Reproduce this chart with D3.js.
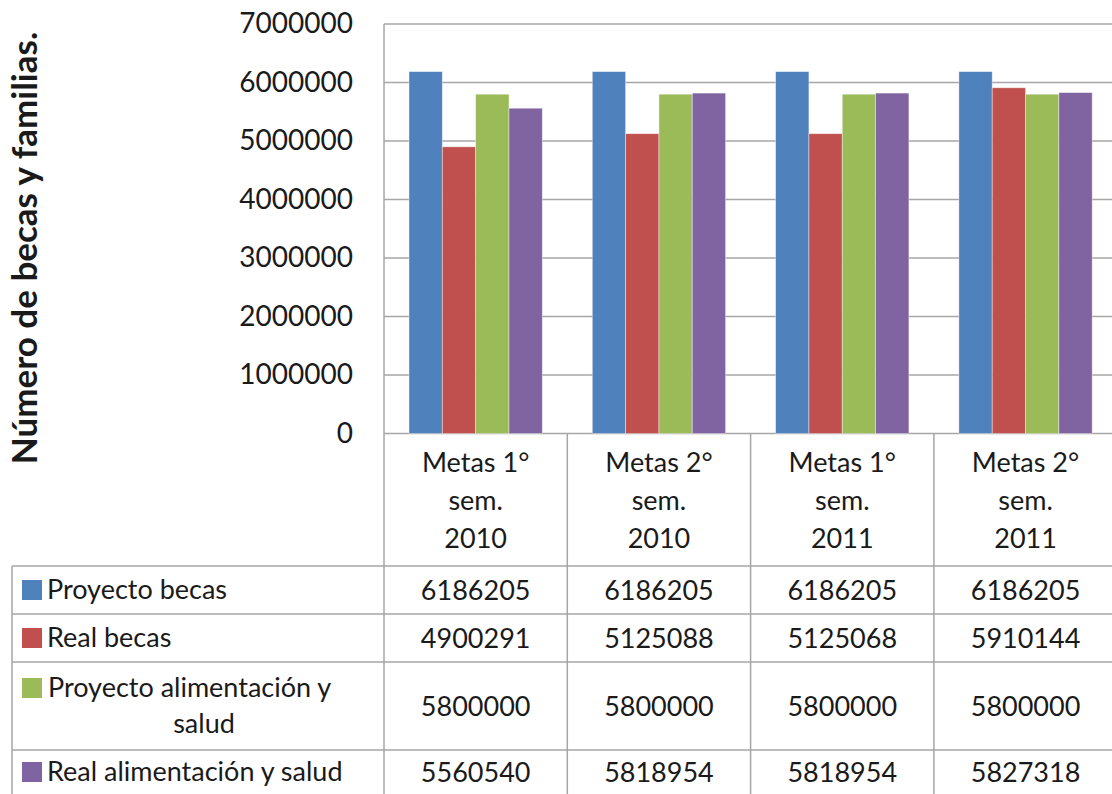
<!DOCTYPE html>
<html>
<head>
<meta charset="utf-8">
<script src="https://cdn.jsdelivr.net/npm/d3@7"></script>
<style>
  body { margin: 0; background: #fff; }
  text { font-family: Lato, "Open Sans", sans-serif; fill: #1a1a1a; }
</style>
</head>
<body>
<div id="chart"></div>
<script>
// datos
const categorias = [
    ["Metas 1°", "sem.", "2010"],
    ["Metas 2°", "sem.", "2010"],
    ["Metas 1°", "sem.", "2011"],
    ["Metas 2°", "sem.", "2011"]
];
const series = [
    ["Proyecto becas"],
    ["Real becas"],
    ["Proyecto alimentación y", "salud"],
    ["Real alimentación y salud"]
];
const proyectoBecas = [6186205, 6186205, 6186205, 6186205];
const realBecas = [4900291, 5125088, 5125068, 5910144];
const proyectoAlimentacion = [5800000, 5800000, 5800000, 5800000];
const realAlimentacion = [5560540, 5818954, 5818954, 5827318];
const yTicks = [0, 1000000, 2000000, 3000000, 4000000, 5000000, 6000000, 7000000];
const colores = ["#4F81BD", "#C0504D", "#9BBB59", "#8064A2"];

const valores = [proyectoBecas, realBecas, proyectoAlimentacion, realAlimentacion];
const catIds = categorias.map((c, i) => "c" + i);
const serIds = series.map((s, i) => "s" + i);

const W = 1112, H = 794;
const izq = 384, arriba = 24, cero = 433.5, anchoCat = 183.3;
const lineaGris = "#a6a6a6";

const svg = d3.select("#chart").append("svg").attr("width", W).attr("height", H);

const x0 = d3.scaleBand().domain(catIds).range([izq, izq + anchoCat * catIds.length]);
const x1 = d3.scaleBand().domain(serIds).range([0, x0.bandwidth()]).paddingOuter(0.75);
const y = d3.scaleLinear().domain([0, 7000000]).range([cero, arriba]);

// rejilla
svg.append("g").selectAll("line").data(yTicks).join("line")
    .attr("x1", izq).attr("x2", W)
    .attr("y1", d => y(d)).attr("y2", d => y(d))
    .attr("stroke", lineaGris).attr("stroke-width", 1.5);
svg.append("line").attr("x1", izq).attr("x2", izq).attr("y1", arriba).attr("y2", H)
    .attr("stroke", lineaGris).attr("stroke-width", 1.5);

// eje y (etiquetas)
const ejeY = d3.axisLeft(y).tickValues(yTicks).tickFormat(d3.format("d")).tickSize(0).tickPadding(0);
const gY = svg.append("g").attr("transform", `translate(353,0)`).call(ejeY);
gY.select(".domain").remove();
gY.selectAll("text").style("font-family", "Lato, sans-serif").style("font-size", "28px").attr("fill", "#1a1a1a");

// barras
const grupos = svg.append("g").selectAll("g").data(catIds).join("g")
    .attr("transform", d => `translate(${x0(d)},0)`);
grupos.selectAll("rect").data((c, ci) => serIds.map((s, si) => ({ s, si, v: valores[si][ci] })))
    .join("rect")
    .attr("x", d => x1(d.s)).attr("width", x1.bandwidth())
    .attr("y", d => y(d.v)).attr("height", d => cero - y(d.v))
    .attr("fill", d => colores[d.si])
    .attr("stroke", "#ffffff").attr("stroke-opacity", 0.5).attr("stroke-width", 0.8);

// título eje y
svg.append("text")
    .attr("transform", "translate(37,248) rotate(-90)")
    .attr("text-anchor", "middle")
    .style("font-size", "35px").style("font-weight", "bold")
    .text("Número de becas y familias.");

// tabla de datos
const filas = [566, 614, 662, 750];
const finFila = [614, 662, 750, 800];
svg.append("g").selectAll("line").data(filas).join("line")
    .attr("x1", 12).attr("x2", W).attr("y1", d => d).attr("y2", d => d)
    .attr("stroke", lineaGris).attr("stroke-width", 1.5);
svg.append("line").attr("x1", 12).attr("x2", 12).attr("y1", 566).attr("y2", H)
    .attr("stroke", lineaGris).attr("stroke-width", 1.5);
svg.append("g").selectAll("line").data(catIds.slice(1)).join("line")
    .attr("x1", d => x0(d)).attr("x2", d => x0(d)).attr("y1", cero).attr("y2", H)
    .attr("stroke", lineaGris).attr("stroke-width", 1.5);

// etiquetas de categoría
svg.append("g").selectAll("text").data(categorias).join("text")
    .attr("text-anchor", "middle").style("font-size", "27px")
    .attr("x", (d, i) => x0(catIds[i]) + x0.bandwidth() / 2)
    .attr("y", 472)
    .each(function(d) {
        const t = d3.select(this);
        const cx = t.attr("x");
        d.forEach((l, k) => t.append("tspan").attr("x", cx).attr("dy", k ? 38 : 0).text(l));
    });

// leyenda y valores
series.forEach((nombre, si) => {
    const yc = (filas[si] + Math.min(finFila[si], H)) / 2;
    const yKey = nombre.length > 1 ? yc - 18 : yc;
    svg.append("rect").attr("x", 22).attr("y", yKey - 10).attr("width", 20).attr("height", 20)
        .attr("fill", colores[si]);
    const t = svg.append("text").style("font-size", "27px").attr("y", yKey + 9);
    if (nombre.length > 1) {
        t.append("tspan").attr("x", 48).text(nombre[0]);
        t.append("tspan").attr("x", 204).attr("dy", 36).attr("text-anchor", "middle").text(nombre[1]);
    } else {
        t.attr("x", 47).text(nombre[0]);
    }
    svg.append("g").selectAll("text").data(valores[si]).join("text")
        .attr("text-anchor", "middle").style("font-size", "27px")
        .attr("x", (d, ci) => x0(catIds[ci]) + x0.bandwidth() / 2)
        .attr("y", yc + 10)
        .text(d => d);
});
</script>
</body>
</html>
